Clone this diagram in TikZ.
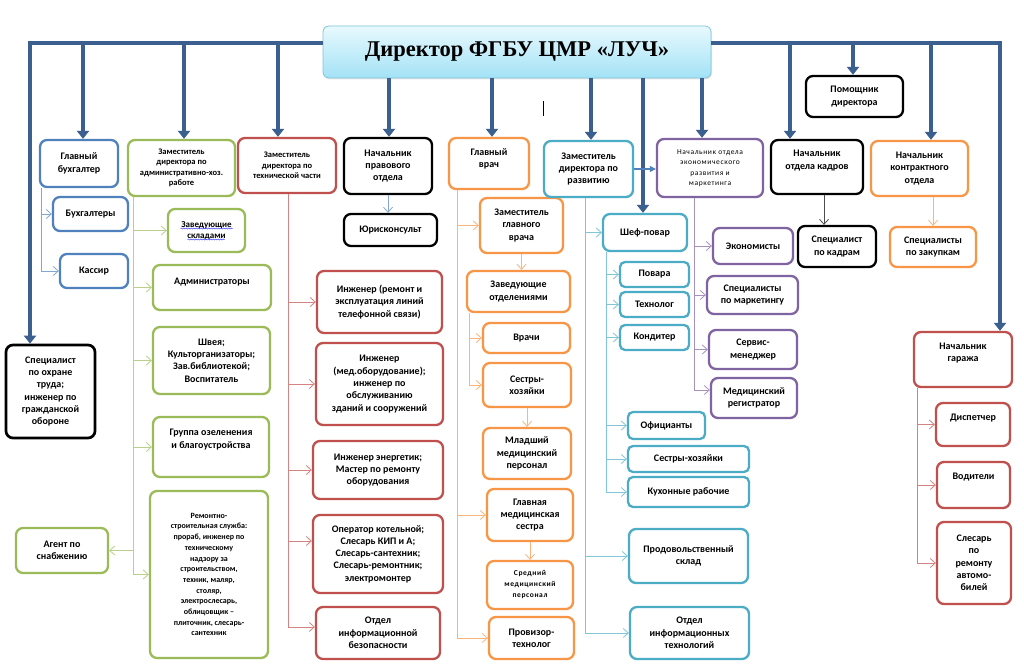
\documentclass[tikz,border=0pt]{standalone}
\usepackage{fontspec}
\setmainfont{Carlito}
\newfontfamily\dirfont{Liberation Serif}
\usepackage{tikz}
\usetikzlibrary{arrows.meta}
\usetikzlibrary{shadows}
\usetikzlibrary{decorations.pathmorphing}
\definecolor{trunkblue}{RGB}{59,95,143}
\definecolor{bxblue}{RGB}{79,129,189}
\definecolor{bxgreen}{RGB}{155,187,89}
\definecolor{bxred}{RGB}{192,80,77}
\definecolor{bxorange}{RGB}{247,150,70}
\definecolor{bxcyan}{RGB}{75,172,198}
\definecolor{bxpurple}{RGB}{128,100,162}
\definecolor{dirtop}{RGB}{232,249,254}
\definecolor{dirbot}{RGB}{163,226,246}
\tikzset{
	unit/.style={draw, fill=white, rounded corners=7pt, line width=2.3pt, align=center, inner sep=1pt, font=\bfseries\fontsize{10}{12.3}\selectfont},
	blackbox/.style={draw=black},
	bluebox/.style={draw=bxblue},
	greenbox/.style={draw=bxgreen},
	redbox/.style={draw=bxred},
	orangebox/.style={draw=bxorange},
	cyanbox/.style={draw=bxcyan},
	purplebox/.style={draw=bxpurple},
	lift/.style={text depth=#1},
	smalltext/.style={font=\bfseries\fontsize{8.5}{10.5}\selectfont},
	tinytext/.style={font=\fontsize{7.5}{10.5}\selectfont\addfontfeature{LetterSpace=8}},
	tinybold/.style={font=\bfseries\fontsize{7.5}{11}\selectfont\addfontfeature{LetterSpace=8}},
	trunk/.style={draw=trunkblue, line width=4.5pt, -{Triangle[width=12pt,length=8pt]}},
	link/.style={draw=#1!70, line width=0.8pt, -{Straight Barb[length=5pt,width=9pt]}},
	devlink/.style={draw=bxblue, line width=1.1pt, -{Triangle[width=6pt,length=6pt]}},
	spell/.style={draw=blue!80, line width=0.5pt, decorate, decoration={snake, amplitude=0.5pt, segment length=2.5pt}}
}
\newcommand{\unitbox}[7][blackbox]{% [style]{name}{x1}{y1}{x2}{y2}{label}
	\node[unit, #1, minimum width={(#5-#3)*1pt}, minimum height={(#6-#4)*1pt}] (#2) at ({(#3+#5)/2},{(#4+#6)/2}) {#7};
}

\begin{document}
\begin{tikzpicture}[x=1pt, y=-1pt]
	\useasboundingbox (0,0) rectangle (1024,671);
	\fill[white] (0,0) rectangle (1024,671);

	\node[draw=bxcyan!70, line width=0.8pt, rounded corners=6pt, top color=dirtop, bottom color=dirbot, drop shadow={opacity=0.2, shadow xshift=1pt, shadow yshift=-1.5pt}, minimum width=388pt, minimum height=52pt, font=\dirfont\bfseries\fontsize{22.5}{26}\selectfont] (dir) at (517,52) {Директор ФГБУ ЦМР «ЛУЧ»};

	% left side
	\unitbox[bluebox]{gb}{40}{140}{118}{187}{Главный\\бухгалтер}
	\unitbox[bluebox]{buh}{53}{197}{128}{231}{Бухгалтеры}
	\unitbox[bluebox]{kas}{60}{254}{128}{288}{Кассир}
	\unitbox[blackbox, line width=2.7pt]{ohrana}{6}{345}{95}{438}{Специалист\\по охране\\труда;\\инженер по\\гражданской\\обороне}
	\unitbox[greenbox, smalltext]{adm}{128}{140}{235}{196}{Заместитель\\директора по\\административно-хоз.\\работе}
	\unitbox[greenbox, font=\bfseries\fontsize{9}{11}\selectfont]{sklad}{168}{209}{245}{252}{Заведующие\\складами}
	\unitbox[greenbox, lift=11.5pt]{admin}{153}{265}{271}{310}{Администраторы}
	\unitbox[greenbox]{shveya}{153}{327}{270}{394}{Швея;\\Культорганизаторы;\\Зав.библиотекой;\\Воспитатель}
	\unitbox[greenbox, lift=16.5pt]{gruppa}{153}{417}{269}{477}{Группа озеленения\\и благоустройства}
	\unitbox[greenbox, font=\bfseries\fontsize{8}{10.7}\selectfont]{remont}{150}{491}{268}{658}{Ремонтно-\\строительная служба:\\прораб, инженер по\\техническому\\надзору за\\строительством,\\техник, маляр,\\столяр,\\электрослесарь,\\облицовщик –\\плиточник, слесарь-\\сантехник}
	\unitbox[greenbox]{agent}{16}{528}{108}{573}{Агент по\\снабжению}

	% technical part
	\unitbox[redbox, smalltext]{tech}{238}{138}{336}{193}{Заместитель\\директора по\\технической части}
	\unitbox[redbox]{tel}{317}{271}{442}{333}{Инженер (ремонт и\\эксплуатация линий\\телефонной связи)}
	\unitbox[redbox]{medob}{316}{343}{443}{425}{Инженер\\(мед.оборудование);\\инженер по\\обслуживанию\\зданий и сооружений}
	\unitbox[redbox]{energ}{313}{441}{443}{499}{Инженер энергетик;\\Мастер по ремонту\\оборудования}
	\unitbox[redbox]{oper}{313}{515}{443}{593}{Оператор котельной;\\Слесарь КИП и А;\\Слесарь-сантехник;\\Слесарь-ремонтник;\\электромонтер}
	\unitbox[redbox]{ib}{316}{607}{440}{659}{Отдел\\информационной\\безопасности}
	\unitbox[blackbox]{pravo}{344}{138}{432}{194}{Начальник\\правового\\отдела}
	\unitbox[blackbox]{jur}{344}{214}{437}{246}{Юрисконсульт}

	% medical part
	\unitbox[orangebox, lift=10.5pt]{vrach}{449}{138}{529}{189}{Главный\\врач}
	\unitbox[orangebox]{zamvr}{480}{198}{563}{253}{Заместитель\\главного\\врача}
	\unitbox[orangebox]{zavotd}{467}{271}{570}{312}{Заведующие\\отделениями}
	\unitbox[orangebox]{vrachi}{483}{323}{570}{353}{Врачи}
	\unitbox[orangebox]{sestry}{483}{363}{571}{407}{Сестры-\\хозяйки}
	\unitbox[orangebox]{mlad}{483}{428}{571}{479}{Младший\\медицинский\\персонал}
	\unitbox[orangebox]{glmed}{487}{489}{573}{541}{Главная\\медицинская\\сестра}
	\unitbox[orangebox, tinybold]{sred}{487}{561}{573}{609}{Средний\\медицинский\\персонал}
	\unitbox[orangebox]{proviz}{489}{617}{574}{659}{Провизор-\\технолог}

	% development
	\unitbox[cyanbox]{razv}{544}{141}{633}{197}{Заместитель\\директора по\\развитию}
	\unitbox[cyanbox]{chef}{603}{214}{687}{251}{Шеф-повар}
	\unitbox[cyanbox, rounded corners=5pt]{povar}{620}{262}{689}{287}{Повара}
	\unitbox[cyanbox, rounded corners=5pt]{techn}{620}{292}{689}{317}{Технолог}
	\unitbox[cyanbox, rounded corners=5pt]{kond}{620}{325}{689}{350}{Кондитер}
	\unitbox[cyanbox, rounded corners=5pt]{ofic}{628}{412}{705}{439}{Официанты}
	\unitbox[cyanbox, rounded corners=5pt]{sest2}{628}{446}{749}{472}{Сестры-хозяйки}
	\unitbox[cyanbox, rounded corners=5pt]{kuh}{628}{477}{749}{507}{Кухонные рабочие}
	\unitbox[cyanbox]{prod}{629}{529}{748}{583}{Продовольственный\\склад}
	\unitbox[cyanbox]{it}{630}{607}{749}{659}{Отдел\\информационных\\технологий}

	% economics
	\unitbox[purplebox, tinytext]{econ}{657}{139}{763}{197}{Начальник отдела\\экономического\\развития и\\маркетинга}
	\unitbox[purplebox]{ekon}{713}{228}{793}{264}{Экономисты}
	\unitbox[purplebox]{mark}{707}{276}{798}{314}{Специалисты\\по маркетингу}
	\unitbox[purplebox]{serv}{709}{330}{797}{369}{Сервис-\\менеджер}
	\unitbox[purplebox]{reg}{711}{378}{797}{418}{Медицинский\\регистратор}

	% right side
	\unitbox[blackbox]{pom}{806}{76}{903}{117}{Помощник\\директора}
	\unitbox[blackbox, lift=14.5pt]{kadr}{771}{140}{863}{194}{Начальник\\отдела кадров}
	\unitbox[blackbox]{spkadr}{798}{226}{876}{267}{Специалист\\по кадрам}
	\unitbox[orangebox]{kontr}{871}{141}{968}{196}{Начальник\\контрактного\\отдела}
	\unitbox[orangebox]{zakup}{890}{227}{976}{267}{Специалисты\\по закупкам}
	\unitbox[redbox, lift=14.5pt]{garage}{914}{332}{1012}{387}{Начальник\\гаража}
	\unitbox[redbox, lift=14.5pt]{disp}{936}{403}{1010}{446}{Диспетчер}
	\unitbox[redbox, lift=16.5pt]{vod}{937}{462}{1010}{508}{Водители}
	\unitbox[redbox]{slesar}{937}{522}{1011}{604}{Слесарь\\по\\ремонту\\автомо-\\билей}

	% main lines from the director
	\coordinate (barL) at (30,43);
	\coordinate (barR) at (1000,43);
	\draw[trunk] (dir.west |- barL) -| (ohrana.north -| barL);
	\draw[trunk] (dir.east |- barR) -| (garage.north -| barR);
	\foreach \x/\t in {83/gb, 184/adm, 278/tech, 790/kadr, 853/pom, 931/kontr}{
		\coordinate (drop) at (\x,43);
		\draw[trunk] (drop) -- (drop |- \t.north);
	}
	\foreach \x/\t in {389/pravo, 492/vrach, 591/razv, 643/chef, 702/econ}{
		\coordinate (drop) at (\x,0);
		\draw[trunk] (dir.south -| drop) -- (drop |- \t.north);
	}

	% subordinate links
	\coordinate (gbsp) at (41,0);
	\foreach \t in {buh, kas} \draw[link=bxblue] (gb.south -| gbsp) |- (\t.west);
	\coordinate (admsp) at (133,0);
	\foreach \t in {sklad, admin, shveya, gruppa, remont} \draw[link=bxgreen] (adm.south -| admsp) |- (\t.west);
	\draw[link=bxgreen] (agent.east -| admsp) -- (agent.east);
	\coordinate (techsp) at (288,0);
	\foreach \t in {tel, medob, energ} \draw[link=bxred] (tech.south -| techsp) |- (\t.west);
	\draw[link=bxred] (tech.south -| techsp) |- ([yshift=13pt]oper.west);
	\draw[link=bxred] (tech.south -| techsp) |- ([yshift=6pt]ib.west);
	\draw[link=bxblue] (pravo.south) -- (pravo.south |- jur.north);

	\coordinate (vrsp) at (457,0);
	\foreach \t in {zamvr, glmed, proviz} \draw[link=bxorange] (vrach.south -| vrsp) |- (\t.west);
	\draw[link=bxorange] (zamvr.south) -- (zamvr.south |- zavotd.north);
	\coordinate (zosp) at (469,0);
	\foreach \t in {vrachi, sestry} \draw[link=bxorange] (zavotd.south -| zosp) |- (\t.west);
	\draw[link=bxorange] (sestry.south) -- (sestry.south |- mlad.north);
	\draw[link=bxorange] (glmed.south) -- (glmed.south |- sred.north);

	\draw[devlink] (razv.east) -- (razv.east -| econ.west);
	\coordinate (rzsp) at (585,0);
	\foreach \t in {chef, prod, it} \draw[link=bxcyan] (razv.south -| rzsp) |- (\t.west);
	\coordinate (chsp) at (606,0);
	\foreach \t in {povar, techn, kond, ofic, sest2, kuh} \draw[link=bxcyan] (chef.south -| chsp) |- (\t.west);
	\coordinate (ecsp) at (694,0);
	\foreach \t in {ekon, mark, serv} \draw[link=bxpurple] (econ.south -| ecsp) |- (\t.west);
	\draw[link=bxpurple] (econ.south -| ecsp) |- ([yshift=8pt]reg.west);

	\coordinate (kdsp) at (824,0);
	\draw[link=black] (kadr.south -| kdsp) -- (spkadr.north -| kdsp);
	\draw[link=bxorange] (kontr.south -| zakup.north) -- (zakup.north);
	\coordinate (grsp) at (917,0);
	\foreach \t in {disp, vod, slesar} \draw[link=bxred] (garage.south -| grsp) |- (\t.west);

	% spell-check marks and cursor
	\draw[spell] ([xshift=-26pt,yshift=2pt]sklad.center) -- ([xshift=26pt,yshift=2pt]sklad.center);
	\draw[spell] ([xshift=-19pt,yshift=-9pt]sklad.center) -- ([xshift=18pt,yshift=-9pt]sklad.center);
	\draw[line width=0.9pt] (543,101) -- (543,116);
\end{tikzpicture}
\end{document}
